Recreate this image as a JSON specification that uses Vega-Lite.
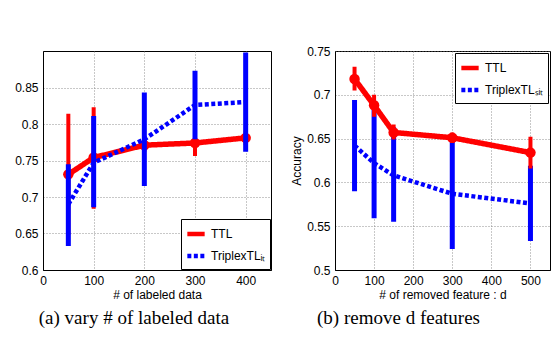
{
  "$schema": "https://vega.github.io/schema/vega-lite/v6.json",
  "background": "white",
  "padding": {"left": 14, "top": 44, "right": 5, "bottom": 5},
  "spacing": 18,
  "datasets": {
    "a": [
      {"series": "TTL", "x": 50, "mean": 0.731, "lo": 0.648, "hi": 0.814},
      {"series": "TTL", "x": 100, "mean": 0.754, "lo": 0.684, "hi": 0.823},
      {"series": "TTL", "x": 200, "mean": 0.771, "lo": 0.762, "hi": 0.780},
      {"series": "TTL", "x": 300, "mean": 0.774, "lo": 0.756, "hi": 0.790},
      {"series": "TTL", "x": 400, "mean": 0.781, "lo": 0.771, "hi": 0.791},
      {"series": "TriplexTLᵢₜ", "x": 50, "mean": 0.690, "lo": 0.633, "hi": 0.745},
      {"series": "TriplexTLᵢₜ", "x": 100, "mean": 0.747, "lo": 0.686, "hi": 0.811},
      {"series": "TriplexTLᵢₜ", "x": 200, "mean": 0.779, "lo": 0.715, "hi": 0.843},
      {"series": "TriplexTLᵢₜ", "x": 300, "mean": 0.826, "lo": 0.779, "hi": 0.873},
      {"series": "TriplexTLᵢₜ", "x": 400, "mean": 0.830, "lo": 0.762, "hi": 0.898}
    ],
    "b": [
      {"series": "TTL", "x": 50, "mean": 0.718, "lo": 0.705, "hi": 0.732},
      {"series": "TTL", "x": 100, "mean": 0.688, "lo": 0.675, "hi": 0.700},
      {"series": "TTL", "x": 150, "mean": 0.657, "lo": 0.649, "hi": 0.666},
      {"series": "TTL", "x": 300, "mean": 0.651, "lo": 0.645, "hi": 0.657},
      {"series": "TTL", "x": 500, "mean": 0.634, "lo": 0.616, "hi": 0.652},
      {"series": "TriplexTLₛᵢₜ", "x": 50, "mean": 0.642, "lo": 0.590, "hi": 0.694},
      {"series": "TriplexTLₛᵢₜ", "x": 100, "mean": 0.622, "lo": 0.559, "hi": 0.688},
      {"series": "TriplexTLₛᵢₜ", "x": 150, "mean": 0.608, "lo": 0.555, "hi": 0.663},
      {"series": "TriplexTLₛᵢₜ", "x": 300, "mean": 0.587, "lo": 0.524, "hi": 0.651},
      {"series": "TriplexTLₛᵢₜ", "x": 500, "mean": 0.576, "lo": 0.533, "hi": 0.619}
    ]
  },
  "resolve": {"scale": {"color": "independent", "strokeDash": "independent"}, "legend": {"color": "independent", "strokeDash": "independent"}},
  "hconcat": [
    {
      "width": 228,
      "height": 219,
      "data": {"name": "a"},
      "title": {"text": "(a) vary # of labeled data", "orient": "bottom", "dx": -23},
      "encoding": {
        "x": {"field": "x", "type": "quantitative", "scale": {"domain": [0, 450], "nice": false}, "axis": {"values": [0, 100, 200, 300, 400], "title": "# of labeled data"}},
        "color": {"field": "series", "type": "nominal", "scale": {"domain": ["TTL", "TriplexTLᵢₜ"], "range": ["#ff0000", "#0000ff"]}, "legend": {"orient": "bottom-right", "offset": 1, "title": null}},
        "strokeDash": {"field": "series", "type": "nominal", "scale": {"domain": ["TTL", "TriplexTLᵢₜ"], "range": [[1, 0], [4, 2.5]]}, "legend": {"orient": "bottom-right", "offset": 1, "title": null}}
      },
      "layer": [
        {
          "transform": [{"filter": "datum.series == 'TTL'"}],
          "mark": {"type": "rule", "strokeWidth": 4},
          "encoding": {
            "y": {"field": "lo", "type": "quantitative", "scale": {"domain": [0.6, 0.9], "nice": false, "zero": false}, "axis": {"values": [0.6, 0.65, 0.7, 0.75, 0.8, 0.85], "format": ".2~f", "title": null}},
            "y2": {"field": "hi"},
            "strokeDash": {"value": [1, 0]}
          }
        },
        {
          "transform": [{"filter": "datum.series == 'TTL'"}],
          "mark": {"type": "line", "strokeWidth": 5.5, "point": {"filled": true, "size": 110, "opacity": 1}},
          "encoding": {"y": {"field": "mean", "type": "quantitative"}}
        },
        {
          "transform": [{"filter": "datum.series != 'TTL'"}],
          "mark": {"type": "rule", "strokeWidth": 5},
          "encoding": {
            "y": {"field": "lo", "type": "quantitative"},
            "y2": {"field": "hi"},
            "strokeDash": {"value": [1, 0]}
          }
        },
        {
          "transform": [{"filter": "datum.series != 'TTL'"}],
          "mark": {"type": "line", "strokeWidth": 4.5, "strokeCap": "butt"},
          "encoding": {"y": {"field": "mean", "type": "quantitative"}}
        }
      ]
    },
    {
      "width": 215,
      "height": 219,
      "data": {"name": "b"},
      "title": {"text": "(b) remove d features", "orient": "bottom", "dx": -44},
      "encoding": {
        "x": {"field": "x", "type": "quantitative", "scale": {"domain": [0, 550], "nice": false}, "axis": {"values": [0, 100, 200, 300, 400, 500], "title": "# of removed feature : d"}},
        "color": {"field": "series", "type": "nominal", "scale": {"domain": ["TTL", "TriplexTLₛᵢₜ"], "range": ["#ff0000", "#0000ff"]}, "legend": {"orient": "top-right", "offset": 2, "title": null}},
        "strokeDash": {"field": "series", "type": "nominal", "scale": {"domain": ["TTL", "TriplexTLₛᵢₜ"], "range": [[1, 0], [4, 2.5]]}, "legend": {"orient": "top-right", "offset": 2, "title": null}}
      },
      "layer": [
        {
          "transform": [{"filter": "datum.series != 'TTL'"}],
          "mark": {"type": "rule", "strokeWidth": 5},
          "encoding": {
            "y": {"field": "lo", "type": "quantitative", "scale": {"domain": [0.5, 0.75], "nice": false, "zero": false}, "axis": {"values": [0.5, 0.55, 0.6, 0.65, 0.7, 0.75], "format": ".2~f", "title": "Accuracy"}},
            "y2": {"field": "hi"},
            "strokeDash": {"value": [1, 0]}
          }
        },
        {
          "transform": [{"filter": "datum.series != 'TTL'"}],
          "mark": {"type": "line", "strokeWidth": 4.5, "strokeCap": "butt"},
          "encoding": {"y": {"field": "mean", "type": "quantitative"}}
        },
        {
          "transform": [{"filter": "datum.series == 'TTL'"}],
          "mark": {"type": "rule", "strokeWidth": 4},
          "encoding": {
            "y": {"field": "lo", "type": "quantitative"},
            "y2": {"field": "hi"},
            "strokeDash": {"value": [1, 0]}
          }
        },
        {
          "transform": [{"filter": "datum.series == 'TTL'"}],
          "mark": {"type": "line", "strokeWidth": 5.5, "point": {"filled": true, "size": 110, "opacity": 1}},
          "encoding": {"y": {"field": "mean", "type": "quantitative"}}
        }
      ]
    }
  ],
  "config": {
    "font": "Liberation Sans",
    "view": {"stroke": "black", "strokeWidth": 1},
    "axis": {
      "labelFont": "Liberation Sans",
      "labelFontSize": 12,
      "labelColor": "black",
      "labelPadding": 5,
      "labelFlush": false,
      "labelOverlap": false,
      "titleFont": "Liberation Sans",
      "titleFontSize": 12,
      "titleFontWeight": "normal",
      "titleColor": "black",
      "domainColor": "black",
      "ticks": false,
      "grid": true,
      "gridColor": "#777",
      "gridDash": [1, 2],
      "gridOpacity": 0.8
    },
    "axisX": {"titlePadding": 3},
    "axisY": {"titlePadding": 3},
    "legend": {
      "strokeColor": "black",
      "fillColor": "white",
      "padding": 4,
      "rowPadding": 2,
      "labelFont": "Liberation Sans",
      "labelFontSize": 12,
      "labelColor": "black",
      "symbolType": "stroke",
      "symbolSize": 300,
      "symbolStrokeWidth": 4.5,
      "symbolOpacity": 1,
      "cornerRadius": 0
    },
    "title": {
      "font": "Liberation Serif",
      "fontSize": 19,
      "fontWeight": "normal",
      "color": "black",
      "offset": 9
    }
  }
}
